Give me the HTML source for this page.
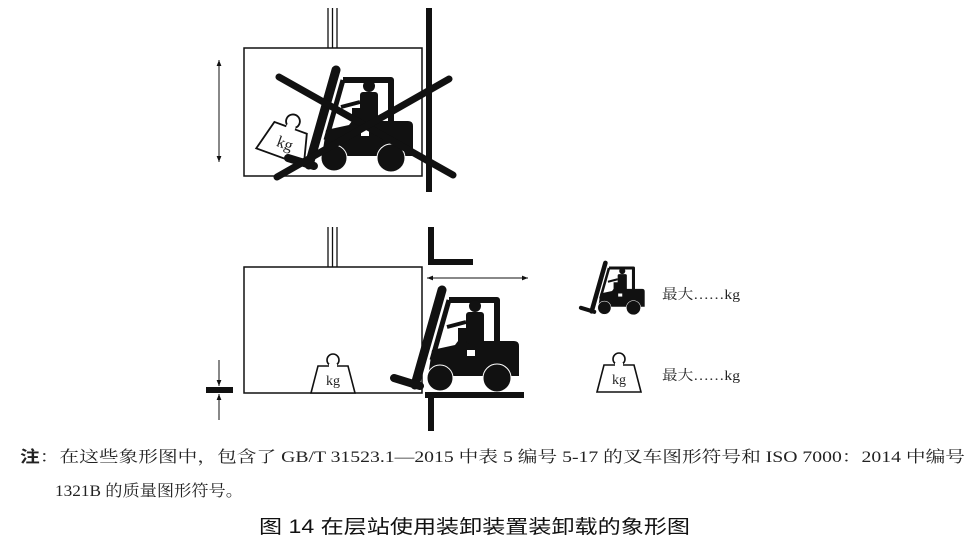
<!DOCTYPE html>
<html><head><meta charset="utf-8"><style>
html,body{margin:0;padding:0;background:#fff;width:976px;height:549px;overflow:hidden}
svg{position:absolute;left:0;top:0}
.t{font-family:"Liberation Serif","Noto Serif CJK SC","Noto Sans CJK SC",serif;fill:#222}
</style></head><body>
<svg width="976" height="549" viewBox="0 0 976 549">
<defs>
<g id="fk">
  <line x1="442" y1="290" x2="415" y2="385" stroke="#111" stroke-width="9" stroke-linecap="round"/>
  <line x1="394" y1="378" x2="420" y2="386" stroke="#111" stroke-width="8" stroke-linecap="round"/>
  <path d="M449 300 L497 300 L497 345" fill="none" stroke="#111" stroke-width="6" stroke-linejoin="round"/>
  <line x1="449" y1="300" x2="432" y2="360" stroke="#111" stroke-width="5"/>
  <path d="M432 350 L455 345 L458 341 L514 341 Q519 341 519 346 L519 376 L428 376 Z" fill="#111"/>
  <rect x="458" y="328" width="20" height="18" fill="#111"/>
  <rect x="467" y="350" width="8" height="6" fill="#fff"/>
  <circle cx="475" cy="306" r="6" fill="#111"/>
  <rect x="466" y="312" width="18" height="32" rx="3" fill="#111"/>
  <line x1="466" y1="322" x2="447" y2="327" stroke="#111" stroke-width="4"/>
  <circle cx="440" cy="378" r="13" fill="#111"/>
  <circle cx="497" cy="378" r="14" fill="#111"/>
  <circle cx="440" cy="378" r="13" fill="none" stroke="#fff" stroke-width="1"/>
  <circle cx="497" cy="378" r="14" fill="none" stroke="#fff" stroke-width="1"/>
</g>
<g id="wt">
  <circle cx="0" cy="-33" r="6" fill="none" stroke="#111" stroke-width="1.6"/>
  <path d="M-22 0 L-15 -27 L-6 -27 L6 -27 L15 -27 L22 0 Z" fill="#fff" stroke="#111" stroke-width="1.6"/>
  <rect x="-4" y="-29" width="8" height="4" fill="#fff"/>
  <text x="0" y="-8" text-anchor="middle" class="t" font-size="14">kg</text>
</g>
<marker id="ah" viewBox="0 0 10 10" refX="10" refY="5" markerWidth="8" markerHeight="6" orient="auto-start-reverse"><path d="M0 1 L10 5 L0 9 Z" fill="#111"/></marker>
</defs>

<!-- TOP -->
<line x1="328" y1="8" x2="328" y2="48" stroke="#111" stroke-width="1.3"/>
<line x1="332.5" y1="8" x2="332.5" y2="48" stroke="#111" stroke-width="1.3"/>
<line x1="337" y1="8" x2="337" y2="48" stroke="#111" stroke-width="1.3"/>
<rect x="244" y="48" width="178" height="128" fill="none" stroke="#111" stroke-width="1.5"/>
<rect x="426" y="8" width="6" height="184" fill="#111"/>
<line x1="219" y1="60" x2="219" y2="162" stroke="#111" stroke-width="1" marker-start="url(#ah)" marker-end="url(#ah)"/>
<g transform="translate(280,157) rotate(20) scale(1.15)"><use href="#wt"/></g>
<use href="#fk" transform="translate(-106,-220)"/>
<line x1="279" y1="77" x2="453" y2="175" stroke="#111" stroke-width="7" stroke-linecap="round"/>
<line x1="277" y1="177" x2="449" y2="79" stroke="#111" stroke-width="7" stroke-linecap="round"/>

<!-- BOTTOM -->
<line x1="328" y1="227" x2="328" y2="267" stroke="#111" stroke-width="1.3"/>
<line x1="332.5" y1="227" x2="332.5" y2="267" stroke="#111" stroke-width="1.3"/>
<line x1="337" y1="227" x2="337" y2="267" stroke="#111" stroke-width="1.3"/>
<rect x="244" y="267" width="178" height="126" fill="none" stroke="#111" stroke-width="1.5"/>
<path d="M428 227 L434 227 L434 259 L473 259 L473 265 L428 265 Z" fill="#111"/>
<line x1="427" y1="278" x2="528" y2="278" stroke="#111" stroke-width="1" marker-start="url(#ah)" marker-end="url(#ah)"/>
<use href="#wt" transform="translate(333,393)"/>
<use href="#fk"/>
<rect x="425" y="392" width="99" height="6" fill="#111"/>
<rect x="428" y="395" width="6" height="36" fill="#111"/>
<rect x="206" y="387" width="27" height="6" fill="#111"/>
<line x1="219" y1="360" x2="219" y2="386" stroke="#111" stroke-width="1" marker-end="url(#ah)"/>
<line x1="219" y1="420" x2="219" y2="394" stroke="#111" stroke-width="1" marker-end="url(#ah)"/>

<!-- legend -->
<use href="#fk" transform="translate(380,115) scale(0.51)"/>
<use href="#wt" transform="translate(619,392)"/>
<text x="662" y="299" class="t" font-size="14" textLength="78" lengthAdjust="spacingAndGlyphs">最大……kg</text>
<text x="662" y="380" class="t" font-size="14" textLength="78" lengthAdjust="spacingAndGlyphs">最大……kg</text>

<!-- notes -->
<text x="20" y="462" class="t" font-size="16" textLength="945" lengthAdjust="spacingAndGlyphs"><tspan font-weight="bold" font-family="Liberation Sans,Noto Sans CJK SC,sans-serif">注</tspan>：在这些象形图中，包含了 GB/T 31523.1—2015 中表 5 编号 5-17 的叉车图形符号和 ISO 7000：2014 中编号</text>
<text x="55" y="496" class="t" font-size="16" textLength="188" lengthAdjust="spacingAndGlyphs">1321B 的质量图形符号。</text>
<text x="259" y="533" font-size="19" font-family="Liberation Sans,Noto Sans CJK SC,sans-serif" fill="#111" textLength="431" lengthAdjust="spacingAndGlyphs">图 14   在层站使用装卸装置装卸载的象形图</text>
</svg>
</body></html>
